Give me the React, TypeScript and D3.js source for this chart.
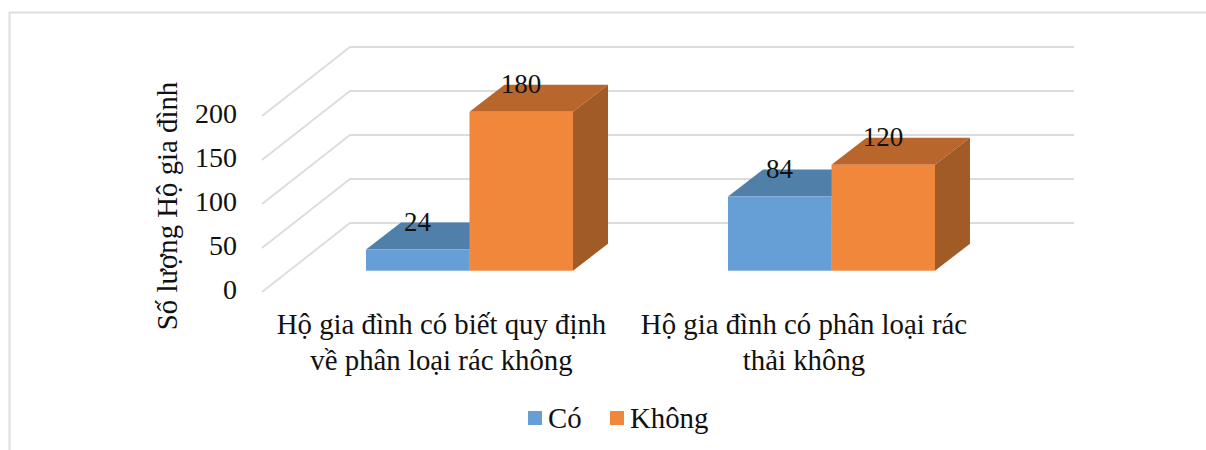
import React from "react";
import * as d3 from "d3";

const categories = [
  ["Hộ gia đình có biết quy định", "về phân loại rác không"],
  ["Hộ gia đình có phân loại rác", "thải không"],
];
const seriesNames = ["Có", "Không"];
const coValues = [24, 84];
const khongValues = [180, 120];
const yTicks = [0, 50, 100, 150, 200];
const axisTitle = "Số lượng Hộ gia đình";

const FONT = "'Liberation Serif', 'Times New Roman', serif";
const FONT_SIZE = 28.8;
const LABEL_SIZE = 27;
const colors = {
  Có: { front: "#659fd6", top: "#5080a9", side: "#4d7aa3" },
  Không: { front: "#f0873b", top: "#b9662c", side: "#a05b26" },
};

const W = 1206;
const H = 450;
const floorFront = 270.7;
const pxPerUnit = 0.883;

export default function App() {
  // Bar heights are measured from the front edge of the floor.
  const y = d3
    .scaleLinear()
    .domain([0, 200])
    .range([floorFront, floorFront - 200 * pxPerUnit]);
  const groupStart = [366, 728];
  const barW = 103.5;
  const depth = { dx: 35, dy: -27 };
  const wall = { x0: 350, x1: 1074, dx: -88, dy: 69, y200: 47, y0: 223 };
  const wallY = d3.scaleLinear().domain([0, 200]).range([wall.y0, wall.y200]);

  const bar = (name: "Có" | "Không", value: number, x: number, key: string) => {
    const top = y(value);
    const c = colors[name];
    const x2 = x + barW;
    return (
      <g key={key}>
        <path
          d={`M${x},${top}L${x + depth.dx},${top + depth.dy}L${x2 + depth.dx},${top + depth.dy}L${x2},${top}Z`}
          fill={c.top}
        />
        <path
          d={`M${x2},${top}L${x2 + depth.dx},${top + depth.dy}L${x2 + depth.dx},${floorFront + depth.dy}L${x2},${floorFront}Z`}
          fill={c.side}
        />
        <rect x={x} y={top} width={barW} height={floorFront - top} fill={c.front} />
      </g>
    );
  };

  return (
    <svg
      width={W}
      height={H}
      viewBox={`0 0 ${W} ${H}`}
      style={{ position: "absolute", left: 0, top: 0, background: "#fff" }}
      fontFamily={FONT}
      fill="#111"
    >
      <path d={`M9.5,${H}V12.5H${W}`} fill="none" stroke="#dedede" strokeWidth={2} />

      {yTicks.map((t) => (
        <path
          key={t}
          d={`M${wall.x0 + wall.dx},${wallY(t) + wall.dy}L${wall.x0},${wallY(t)}H${wall.x1}`}
          fill="none"
          stroke="#dcdcdc"
          strokeWidth={1.8}
        />
      ))}

      {categories.map((_, i) => (
        <g key={i}>
          {bar("Có", coValues[i], groupStart[i], `co-${i}`)}
          {bar("Không", khongValues[i], groupStart[i] + barW, `khong-${i}`)}
        </g>
      ))}

      {categories.map((_, i) => (
        <g key={i} fontSize={LABEL_SIZE} textAnchor="middle">
          <text x={groupStart[i] + 51.5} y={y(coValues[i]) - 19}>
            {coValues[i]}
          </text>
          <text x={groupStart[i] + barW + 51.5} y={y(khongValues[i]) - 19}>
            {khongValues[i]}
          </text>
        </g>
      ))}

      {yTicks.map((t) => (
        <text key={t} x={237} y={wallY(t) + 76} fontSize={28} textAnchor="end">
          {t}
        </text>
      ))}

      <text
        transform="translate(177,206) rotate(-90)"
        fontSize={FONT_SIZE}
        textAnchor="middle"
      >
        {axisTitle}
      </text>

      {categories.map((lines, i) => (
        <text key={i} fontSize={FONT_SIZE} textAnchor="middle">
          {lines.map((l, j) => (
            <tspan key={j} x={[441.5, 804][i]} y={334 + j * 36}>
              {l}
            </tspan>
          ))}
        </text>
      ))}

      <rect x={528} y={411} width={14} height={14} fill={colors["Có"].front} />
      <text x={548} y={428} fontSize={FONT_SIZE}>
        {seriesNames[0]}
      </text>
      <rect x={610} y={411} width={14} height={14} fill={colors["Không"].front} />
      <text x={630} y={428} fontSize={FONT_SIZE}>
        {seriesNames[1]}
      </text>
    </svg>
  );
}
